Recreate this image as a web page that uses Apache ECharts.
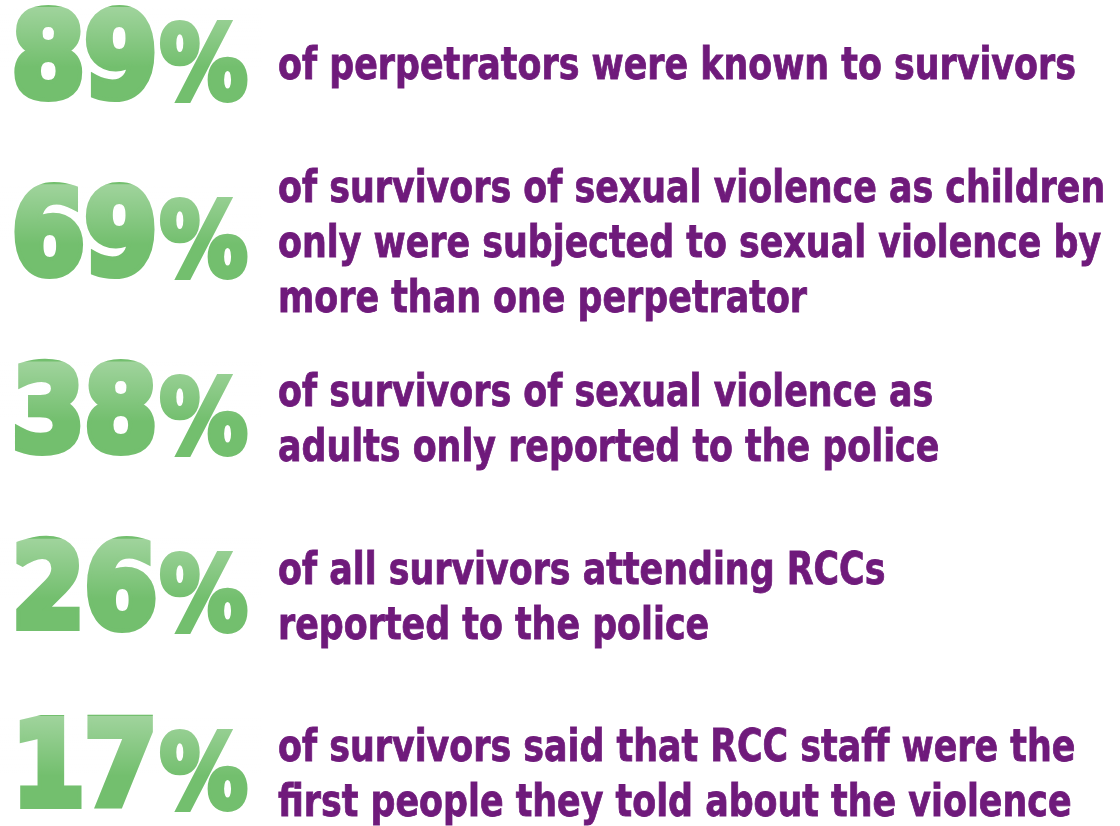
<!DOCTYPE html>
<html lang="en">
<head>
<meta charset="UTF-8">
<title>RCC survivors</title>
<script src="https://cdn.jsdelivr.net/npm/echarts@6/dist/echarts.min.js"></script>
<style>
body{margin:0;padding:0;background:#fff}
#main{width:1120px;height:826px}
</style>
</head>
<body>
<div id="main"></div>
<script>
var rows = ['perpetrators', 'children', 'adults', 'all', 'staff'];
var percents = [89, 69, 38, 26, 17];
var captions = [
    ['of perpetrators were known to survivors'],
    ['of survivors of sexual violence as children',
     'only were subjected to sexual violence by',
     'more than one perpetrator'],
    ['of survivors of sexual violence as',
     'adults only reported to the police'],
    ['of all survivors attending RCCs',
     'reported to the police'],
    ['of survivors said that RCC staff were the',
     'first people they told about the violence']
];

var purple = '#6f1a7b';
var green = '#73bf6e';

var myChart = echarts.init(document.getElementById('main'));
var option = {
    animation: false,
    grid: {left: 0, right: 0, top: 57, bottom: 60},
    xAxis: {type: 'value', min: 0, max: 1, show: false},
    yAxis: {type: 'category', data: rows, inverse: true, boundaryGap: false, show: false},
    series: [{
        type: 'custom',
        data: percents.map(function (v, i) { return [0, i, v]; }),
        encode: {x: 0, y: 1},
        renderItem: function (params, api) {
            var i = params.dataIndex;
            var p = api.coord([api.value(0), api.value(1)]);
            var cy = p[1];
            return {
                type: 'group',
                children: [{
                    type: 'text',
                    x: p[0] + 12, y: cy + 67,
                    scaleX: 1.0, scaleY: 1.02,
                    style: {
                        text: String(api.value(2)),
                        font: 'bold 116px "DejaVu Sans Condensed"',
                        fill: green, stroke: green, lineWidth: 8, lineJoin: 'round',
                        align: 'left', verticalAlign: 'bottom'
                    }
                }, {
                    type: 'text',
                    x: p[0] + 160, y: cy + 66,
                    scaleX: 0.95, scaleY: 1,
                    style: {
                        text: '%',
                        font: 'bold 102px "DejaVu Sans Condensed"',
                        fill: green, stroke: green, lineWidth: 6, lineJoin: 'round',
                        align: 'left', verticalAlign: 'bottom'
                    }
                }, {
                    // soft light at the top of the figures (background is white)
                    type: 'rect',
                    shape: {x: p[0], y: cy - 50, width: 262, height: 100},
                    style: {
                        fill: new echarts.graphic.LinearGradient(0, 0, 0, 1, [
                            {offset: 0, color: 'rgba(255,255,255,0.32)'},
                            {offset: 0.6, color: 'rgba(255,255,255,0)'}
                        ])
                    }
                }, {
                    type: 'text',
                    x: p[0] + 278, y: cy + 11,
                    scaleX: 0.88, scaleY: 1,
                    style: {
                        text: captions[i].join('\n'),
                        font: 'bold 44px "DejaVu Sans Condensed"',
                        lineHeight: 55,
                        fill: purple, stroke: purple, lineWidth: 0.8,
                        align: 'left', verticalAlign: 'middle'
                    }
                }]
            };
        }
    }]
};
myChart.setOption(option);
</script>
</body>
</html>
